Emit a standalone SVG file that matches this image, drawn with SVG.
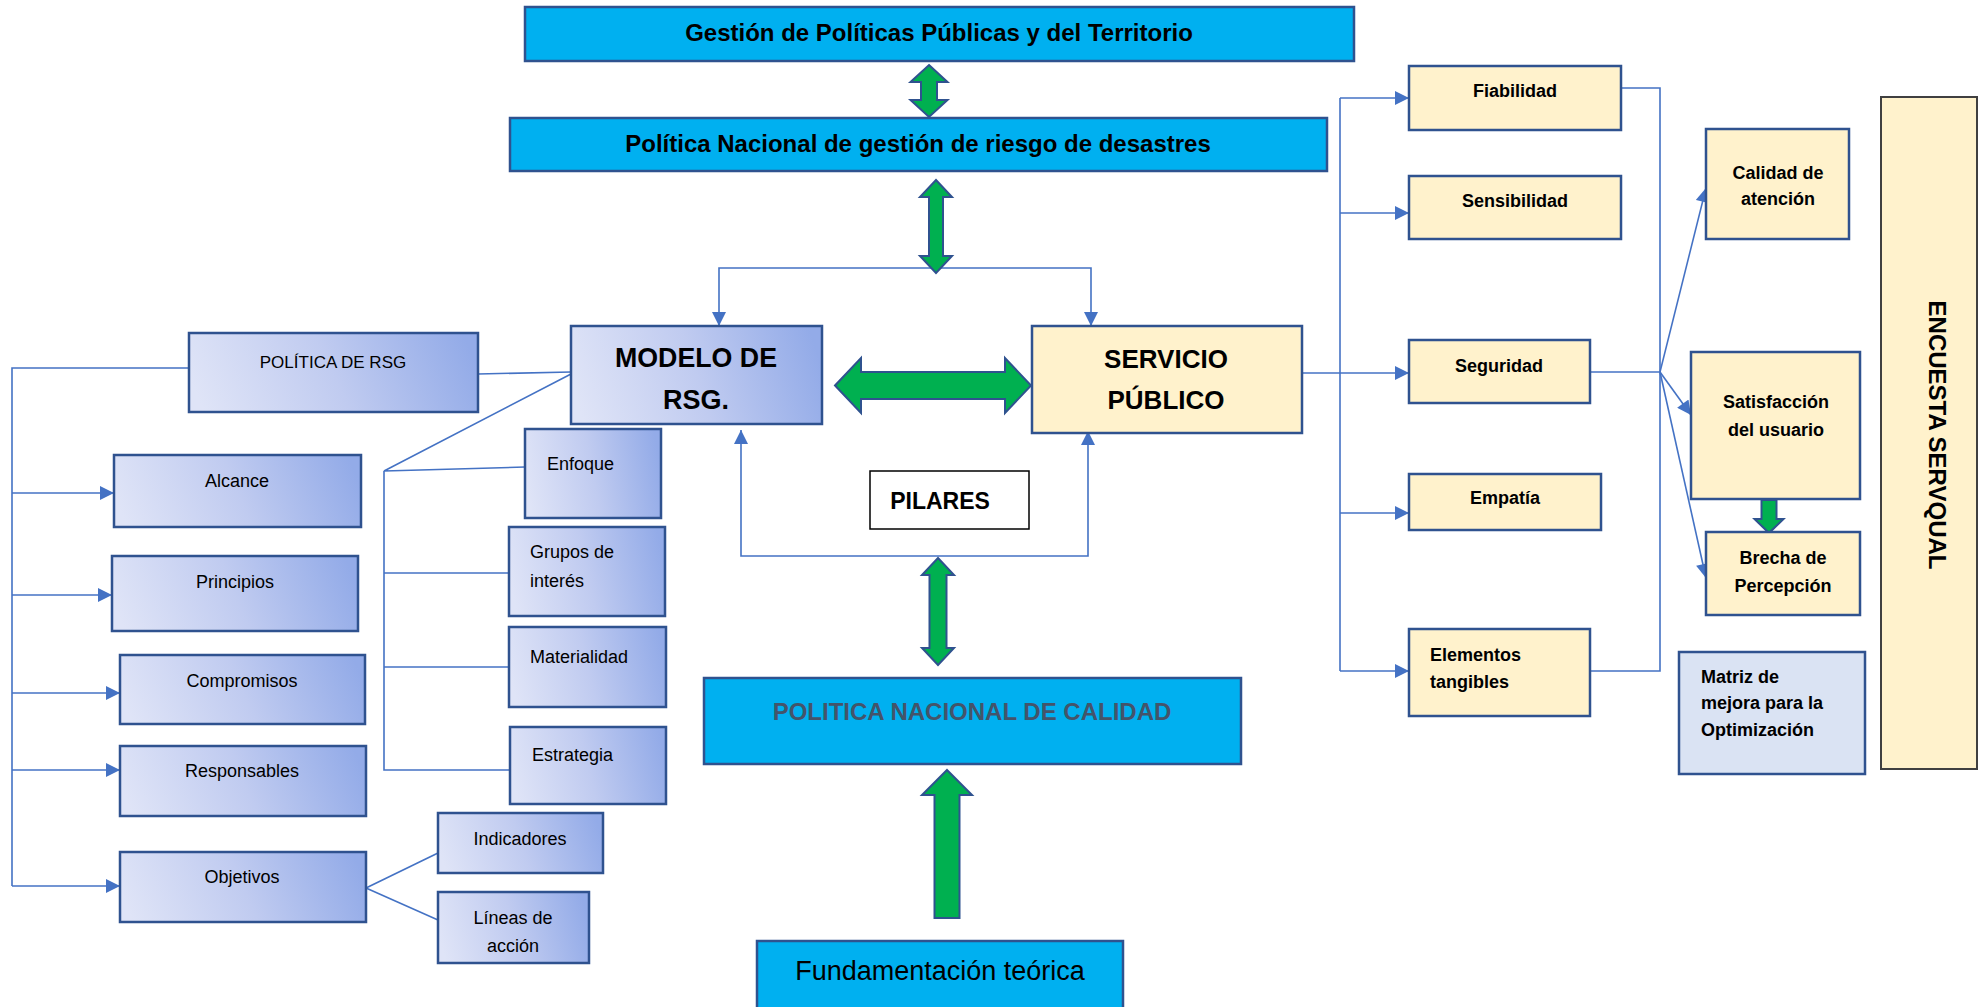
<svg xmlns="http://www.w3.org/2000/svg" width="1981" height="1007" viewBox="0 0 1981 1007">
<style>
.bx{stroke:#2F528F;stroke-width:2.5}
.blue{fill:#00B0F0}
.grad{fill:url(#g)}
.yel{fill:#FFF2CC}
.ln{fill:none;stroke:#4472C4;stroke-width:1.6}
.ga{fill:#00B050;stroke:#2F528F;stroke-width:2}
text{font-family:"Liberation Sans",Arial,sans-serif;fill:#000}
.b{font-weight:bold}
.r18{font-size:18px}
.b18{font-size:18px;font-weight:bold}
.m{text-anchor:middle}
</style>
<defs>
<linearGradient id="g" x1="0" y1="0.56" x2="1" y2="0.44">
<stop offset="0" stop-color="#DFE4F7"/>
<stop offset="0.5" stop-color="#C0CBF0"/>
<stop offset="1" stop-color="#93ABE8"/>
</linearGradient>
<marker id="ah" viewBox="0 0 10 10" refX="10" refY="5" markerWidth="16" markerHeight="14" markerUnits="userSpaceOnUse" orient="auto">
<path d="M0,0 L10,5 L0,10 Z" fill="#4472C4"/>
</marker>
</defs>

<g id="connectors">
<path class="ln" d="M929,268 H719 V326" marker-end="url(#ah)"/>
<path class="ln" d="M929,268 H1091 V326" marker-end="url(#ah)"/>
<path class="ln" d="M915,556 H741 V430" marker-end="url(#ah)"/>
<path class="ln" d="M915,556 H1088 V431" marker-end="url(#ah)"/>
<path class="ln" d="M478,374 L571,372"/>
<path class="ln" d="M571,374 L384,471 L525,467"/>
<path class="ln" d="M384,471 V770 H510"/>
<path class="ln" d="M384,573 H509"/>
<path class="ln" d="M384,667 H509"/>
<path class="ln" d="M189,368 H12 V886"/>
<path class="ln" d="M12,493 H114" marker-end="url(#ah)"/>
<path class="ln" d="M12,595 H112" marker-end="url(#ah)"/>
<path class="ln" d="M12,693 H120" marker-end="url(#ah)"/>
<path class="ln" d="M12,770 H120" marker-end="url(#ah)"/>
<path class="ln" d="M12,886 H120" marker-end="url(#ah)"/>
<path class="ln" d="M366,888 L438,853"/>
<path class="ln" d="M366,888 L438,920"/>
<path class="ln" d="M1302,373 H1409" marker-end="url(#ah)"/>
<path class="ln" d="M1340,98 V671"/>
<path class="ln" d="M1340,98 H1409" marker-end="url(#ah)"/>
<path class="ln" d="M1340,213 H1409" marker-end="url(#ah)"/>
<path class="ln" d="M1340,513 H1409" marker-end="url(#ah)"/>
<path class="ln" d="M1340,671 H1409" marker-end="url(#ah)"/>
<path class="ln" d="M1621,88 H1660 V671 H1590"/>
<path class="ln" d="M1590,372 H1660"/>
<path class="ln" d="M1660,372 L1706,188" marker-end="url(#ah)"/>
<path class="ln" d="M1660,372 L1691,415" marker-end="url(#ah)"/>
<path class="ln" d="M1660,372 L1706,578" marker-end="url(#ah)"/>
<polygon class="ga" points="929,65 947.5,82 937,82 937,100 947.5,100 929,117 910.5,100 921,100 921,82 910.5,82"/>
<polygon class="ga" points="936,180 952,197 943,197 943,256 952,256 936,273 920,256 929,256 929,197 920,197"/>
<polygon class="ga" points="835,385.5 861,358 861,372 1005,372 1005,358 1031,385.5 1005,413 1005,399 861,399 861,413"/>
<polygon class="ga" points="938,558 954,575 946.5,575 946.5,648 954,648 938,665 922,648 929.5,648 929.5,575 922,575"/>
<polygon class="ga" points="947,770 972,795 959.5,795 959.5,918 934.5,918 934.5,795 922,795"/>
<polygon class="ga" points="1761.5,500 1776.5,500 1776.5,519 1783.5,519 1769,533 1754.5,519 1761.5,519"/>
</g>

<g id="n-gestion">
<rect class="bx blue" x="525" y="7" width="829" height="54"/>
<text class="b m" x="939" y="41" font-size="24">Gestión de Políticas Públicas y del Territorio</text>
</g>
<g id="n-pngrd">
<rect class="bx blue" x="510" y="118" width="817" height="53"/>
<text class="b m" x="918" y="152" font-size="24">Política Nacional de gestión de riesgo de desastres</text>
</g>
<g id="n-modelo">
<rect class="bx grad" x="571" y="326" width="251" height="98"/>
<text class="b m" x="696" y="367" font-size="27" textLength="162" lengthAdjust="spacingAndGlyphs">MODELO DE</text>
<text class="b m" x="696" y="409" font-size="27">RSG.</text>
</g>
<g id="n-servicio">
<rect class="bx yel" x="1032" y="326" width="270" height="107"/>
<text class="b m" x="1166" y="368" font-size="26">SERVICIO</text>
<text class="b m" x="1166" y="409" font-size="26">PÚBLICO</text>
</g>
<g id="n-pilares">
<rect x="870" y="471" width="159" height="58" fill="#fff" stroke="#000" stroke-width="1.5"/>
<text class="b m" x="940" y="509" font-size="23">PILARES</text>
</g>
<g id="n-pnc">
<rect class="bx blue" x="704" y="678" width="537" height="86"/>
<text class="b m" x="972" y="720" font-size="24" style="fill:#44546A">POLITICA NACIONAL DE CALIDAD</text>
</g>
<g id="n-fund">
<rect class="bx blue" x="757" y="941" width="366" height="72"/>
<text class="m" x="940" y="980" font-size="27">Fundamentación teórica</text>
</g>

<g id="n-politica-rsg">
<rect class="bx grad" x="189" y="333" width="289" height="79"/>
<text class="m" x="333" y="368" font-size="17">POLÍTICA DE RSG</text>
</g>
<g id="n-alcance">
<rect class="bx grad" x="114" y="455" width="247" height="72"/>
<text class="r18 m" x="237" y="487">Alcance</text>
</g>
<g id="n-principios">
<rect class="bx grad" x="112" y="556" width="246" height="75"/>
<text class="r18 m" x="235" y="588">Principios</text>
</g>
<g id="n-compromisos">
<rect class="bx grad" x="120" y="655" width="245" height="69"/>
<text class="r18 m" x="242" y="687">Compromisos</text>
</g>
<g id="n-responsables">
<rect class="bx grad" x="120" y="746" width="246" height="70"/>
<text class="r18 m" x="242" y="777">Responsables</text>
</g>
<g id="n-objetivos">
<rect class="bx grad" x="120" y="852" width="246" height="70"/>
<text class="r18 m" x="242" y="883">Objetivos</text>
</g>
<g id="n-enfoque">
<rect class="bx grad" x="525" y="429" width="136" height="89"/>
<text class="r18" x="547" y="470">Enfoque</text>
</g>
<g id="n-grupos">
<rect class="bx grad" x="509" y="527" width="156" height="89"/>
<text class="r18" x="530" y="558">Grupos de</text>
<text class="r18" x="530" y="587">interés</text>
</g>
<g id="n-materialidad">
<rect class="bx grad" x="509" y="627" width="157" height="80"/>
<text class="r18" x="530" y="663">Materialidad</text>
</g>
<g id="n-estrategia">
<rect class="bx grad" x="510" y="727" width="156" height="77"/>
<text class="r18" x="532" y="761">Estrategia</text>
</g>
<g id="n-indicadores">
<rect class="bx grad" x="438" y="813" width="165" height="60"/>
<text class="r18 m" x="520" y="845">Indicadores</text>
</g>
<g id="n-lineas">
<rect class="bx grad" x="438" y="892" width="151" height="71"/>
<text class="r18 m" x="513" y="924">Líneas de</text>
<text class="r18 m" x="513" y="952">acción</text>
</g>

<g id="n-fiabilidad">
<rect class="bx yel" x="1409" y="66" width="212" height="64"/>
<text class="b18 m" x="1515" y="97">Fiabilidad</text>
</g>
<g id="n-sensibilidad">
<rect class="bx yel" x="1409" y="176" width="212" height="63"/>
<text class="b18 m" x="1515" y="207">Sensibilidad</text>
</g>
<g id="n-seguridad">
<rect class="bx yel" x="1409" y="340" width="181" height="63"/>
<text class="b18 m" x="1499" y="372">Seguridad</text>
</g>
<g id="n-empatia">
<rect class="bx yel" x="1409" y="474" width="192" height="56"/>
<text class="b18 m" x="1505" y="504">Empatía</text>
</g>
<g id="n-elementos">
<rect class="bx yel" x="1409" y="629" width="181" height="87"/>
<text class="b18" x="1430" y="661">Elementos</text>
<text class="b18" x="1430" y="688">tangibles</text>
</g>
<g id="n-calidad">
<rect class="bx yel" x="1706" y="129" width="143" height="110"/>
<text class="b18 m" x="1778" y="179">Calidad de</text>
<text class="b18 m" x="1778" y="205">atención</text>
</g>
<g id="n-satisfaccion">
<rect class="bx yel" x="1691" y="352" width="169" height="147"/>
<text class="b18 m" x="1776" y="408">Satisfacción</text>
<text class="b18 m" x="1776" y="436">del usuario</text>
</g>
<g id="n-brecha">
<rect class="bx yel" x="1706" y="532" width="154" height="83"/>
<text class="b18 m" x="1783" y="564">Brecha de</text>
<text class="b18 m" x="1783" y="592">Percepción</text>
</g>
<g id="n-matriz">
<rect class="bx" x="1679" y="652" width="186" height="122" fill="#DAE3F3"/>
<text class="b18" x="1701" y="683">Matriz de</text>
<text class="b18" x="1701" y="709">mejora para la</text>
<text class="b18" x="1701" y="736">Optimización</text>
</g>
<g id="n-encuesta">
<rect x="1881" y="97" width="96" height="672" fill="#FFF2CC" stroke="#404040" stroke-width="2"/>
<text class="b m" font-size="24" transform="translate(1929,435) rotate(90)" x="0" y="0">ENCUESTA SERVQUAL</text>
</g>
</svg>
